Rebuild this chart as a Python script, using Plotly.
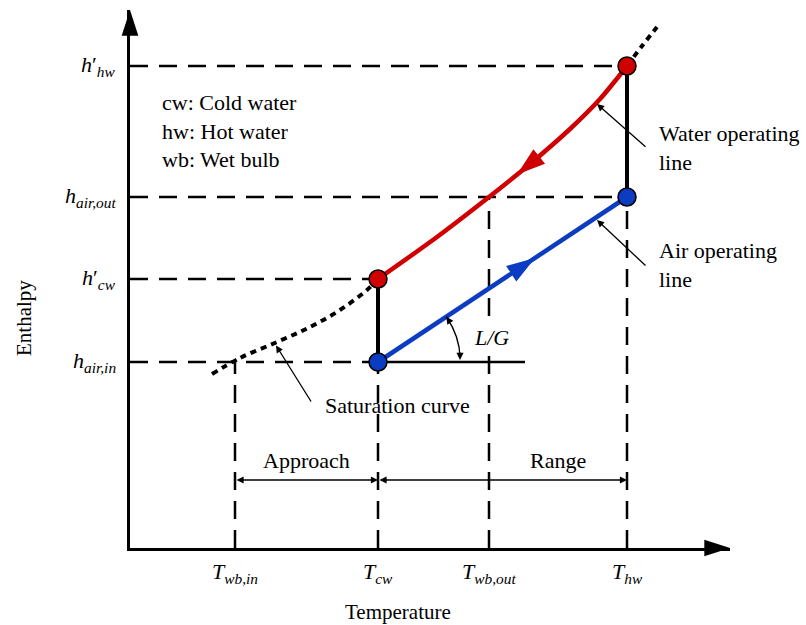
import numpy as np
import plotly.graph_objects as go

# ---------------- data (schematic units) ----------------
T_vals = [1.05, 2.48, 3.59, 4.97]          # T_wb,in, T_cw, T_wb,out, T_hw
T_text = ["<i>T</i><sub><i>wb,in</i></sub>", "<i>T</i><sub><i>cw</i></sub>",
          "<i>T</i><sub><i>wb,out</i></sub>", "<i>T</i><sub><i>hw</i></sub>"]
h_vals = [1.86, 2.69, 3.51, 4.82]          # h_air,in, h'_cw, h_air,out, h'_hw
h_text = ["<i>h</i><sub><i>air,in</i></sub>", "<i>h</i>′<sub><i>cw</i></sub>",
          "<i>h</i><sub><i>air,out</i></sub>", "<i>h</i>′<sub><i>hw</i></sub>"]

sat_lo_T = [0.82, 1.10, 1.47, 1.80, 2.10, 2.37, 2.48]
sat_lo_h = [1.74, 1.90, 2.06, 2.21, 2.38, 2.58, 2.69]
sat_hi_T = [4.97, 5.12, 5.27]
sat_hi_h = [4.82, 5.02, 5.21]

water_T = [2.48, 3.07, 3.59, 4.00, 4.40, 4.70, 4.97]
water_h = [2.69, 3.11, 3.51, 3.84, 4.19, 4.49, 4.82]

air_T = [2.48, 4.97]
air_h = [1.86, 3.51]

notes = ["cw: Cold water", "hw: Hot water", "wb: Wet bulb"]

X_MAX, Y_MAX = 6.0, 5.38
FONT = "Liberation Serif, Times New Roman, serif"
RED = "#d00000"
BLUE = "#0b3cc1"

T_wbin, T_cw, T_wbout, T_hw = T_vals
h_ain, h_cw, h_aout, h_hw = h_vals

fig = go.Figure()

# ---------------- dashed guide lines ----------------
dash = "18px,11px"
guides = [
    (0, h_hw, T_hw, h_hw), (0, h_aout, T_hw, h_aout),
    (0, h_cw, T_cw, h_cw), (0, h_ain, T_cw, h_ain),
    (T_wbin, 0, T_wbin, h_ain), (T_cw, 0, T_cw, h_ain),
    (T_wbout, 0, T_wbout, h_aout), (T_hw, 0, T_hw, h_aout),
]
for x0, y0, x1, y1 in guides:
    fig.add_shape(type="line", x0=x0, y0=y0, x1=x1, y1=y1, xref="x", yref="y",
                  line=dict(color="black", width=2.5, dash=dash), layer="below")

# horizontal reference for L/G angle
fig.add_shape(type="line", x0=T_cw, y0=h_ain, x1=3.95, y1=h_ain, xref="x", yref="y",
              line=dict(color="black", width=2.5), layer="below")

# ---------------- saturation curve (dotted) ----------------
for xs, ys in [(sat_lo_T, sat_lo_h), (sat_hi_T, sat_hi_h)]:
    fig.add_trace(go.Scatter(x=xs, y=ys, mode="lines",
                             line=dict(color="black", width=4, dash="6px,5px", shape="spline"),
                             hoverinfo="skip"))

# vertical solid black segments
fig.add_trace(go.Scatter(x=[T_cw, T_cw, None, T_hw, T_hw], y=[h_ain, h_cw, None, h_aout, h_hw],
                         mode="lines", line=dict(color="black", width=4), hoverinfo="skip"))

# water operating line
fig.add_trace(go.Scatter(x=water_T, y=water_h, mode="lines",
                         line=dict(color=RED, width=4.5, shape="spline", smoothing=0.8),
                         hoverinfo="skip"))
# air operating line
fig.add_trace(go.Scatter(x=air_T, y=air_h, mode="lines",
                         line=dict(color=BLUE, width=4.5), hoverinfo="skip"))

# direction arrows on the lines
def on_water(t):
    return float(np.interp(t, water_T, water_h))

def on_air(t):
    return float(np.interp(t, air_T, air_h))

fig.add_trace(go.Scatter(x=[3.96, 3.87], y=[on_water(3.96), on_water(3.87)], mode="markers",
                         marker=dict(symbol="arrow", size=[0, 30], color=RED, angleref="previous",
                                     opacity=1, line=dict(width=0)),
                         cliponaxis=False, hoverinfo="skip"))
fig.add_trace(go.Scatter(x=[3.95, 4.05], y=[on_air(3.95), on_air(4.05)], mode="markers",
                         marker=dict(symbol="arrow", size=[0, 30], color=BLUE, angleref="previous",
                                     opacity=1, line=dict(width=0)),
                         cliponaxis=False, hoverinfo="skip"))

# state points
fig.add_trace(go.Scatter(x=[T_cw, T_hw], y=[h_cw, h_hw], mode="markers",
                         marker=dict(size=18, color=RED, opacity=1, line=dict(color="black", width=1.5)),
                         cliponaxis=False, hoverinfo="skip"))
fig.add_trace(go.Scatter(x=[T_cw, T_hw], y=[h_ain, h_aout], mode="markers",
                         marker=dict(size=18, color=BLUE, opacity=1, line=dict(color="black", width=1.5)),
                         cliponaxis=False, hoverinfo="skip"))

# axis arrowheads
fig.add_trace(go.Scatter(x=[X_MAX, 0], y=[0, Y_MAX], mode="markers",
                         marker=dict(symbol="arrow", size=27, color="black", angle=[90, 0],
                                     opacity=1, line=dict(width=0)),
                         cliponaxis=False, hoverinfo="skip"))

# ---------------- L/G arc ----------------
theta = np.arctan2(air_h[1] - air_h[0], air_T[1] - air_T[0])
r = 0.82
sx, sy = T_cw + r * np.cos(theta), h_ain + r * np.sin(theta)
ex, ey = T_cw + r, h_ain + 0.04
cr = r / np.cos(theta / 2)
cx, cy = T_cw + cr * np.cos(theta / 2), h_ain + cr * np.sin(theta / 2)
fig.add_shape(type="path", path=f"M {sx},{sy} Q {cx},{cy} {ex},{ey}", xref="x", yref="y",
              line=dict(color="black", width=1.4))

ann = []
def arrow_only(x, y, ax, ay, pixel=False, **kw):
    d = dict(x=x, y=y, ax=ax, ay=ay, xref="x", yref="y", text="", showarrow=True,
             arrowhead=2, arrowsize=1.1, arrowwidth=1.3, arrowcolor="black")
    if not pixel:
        d.update(axref="x", ayref="y")
    d.update(kw)
    ann.append(d)

arrow_only(ex, ey - 0.02, 0, -9, pixel=True)
arrow_only(sx, sy, 7 * np.sin(theta), 7 * np.cos(theta), pixel=True)

# callout arrows
arrow_only(4.67, on_water(4.67) - 0.02, 5.17, 4.00)
arrow_only(4.67, on_air(4.67) - 0.03, 5.17, 2.81)
arrow_only(1.46, float(np.interp(1.46, sat_lo_T, sat_lo_h)) - 0.03, 1.82, 1.45)

# approach / range dimension arrows
arrow_only(T_cw, 0.68, T_wbin, 0.68, arrowside="end+start", startarrowhead=2, startarrowsize=1.1)
arrow_only(T_hw, 0.68, T_cw, 0.68, arrowside="end+start", startarrowhead=2, startarrowsize=1.1)

def txt(text, x, y, size=22, **kw):
    d = dict(text=text, x=x, y=y, xref="x", yref="y", showarrow=False,
             font=dict(family=FONT, size=size, color="black"))
    d.update(kw)
    ann.append(d)

txt("Approach", (T_wbin + T_cw) / 2, 0.88)
txt("Range", (T_wbout + T_hw) / 2, 0.88)
txt("Saturation curve", 1.93, 1.43, xanchor="left")
txt("Water operating<br>line", 5.27, 4.005, xanchor="left", align="left")
txt("Air operating<br>line", 5.27, 2.835, xanchor="left", align="left")
txt("<br>".join(notes), 0.30, 4.17, xanchor="left", align="left")
txt("<i>L/G</i>", 3.61, 2.11, bgcolor="white", borderpad=0)

# tick labels
for t, s in zip(T_vals, T_text):
    txt(s, t, 0, yshift=-25)
for h, s in zip(h_vals, h_text):
    txt(s, 0, h, xref="paper", xanchor="right", xshift=-12)

# axis titles
txt("Enthalpy", 0, 2.30, size=21, xref="paper", xshift=-120, textangle=-90)
txt("Temperature", 2.68, 0, size=21, yshift=-64)

fig.update_layout(
    width=806, height=625,
    margin=dict(l=130, r=76, t=10, b=77),
    plot_bgcolor="white", paper_bgcolor="white",
    showlegend=False, annotations=ann,
)
axis_style = dict(showgrid=False, zeroline=False, showline=True, linecolor="black",
                  linewidth=3, showticklabels=False, ticks="", fixedrange=True)
fig.update_xaxes(range=[0, X_MAX], **axis_style)
fig.update_yaxes(range=[0, Y_MAX], **axis_style)

fig.write_html("out.html")
